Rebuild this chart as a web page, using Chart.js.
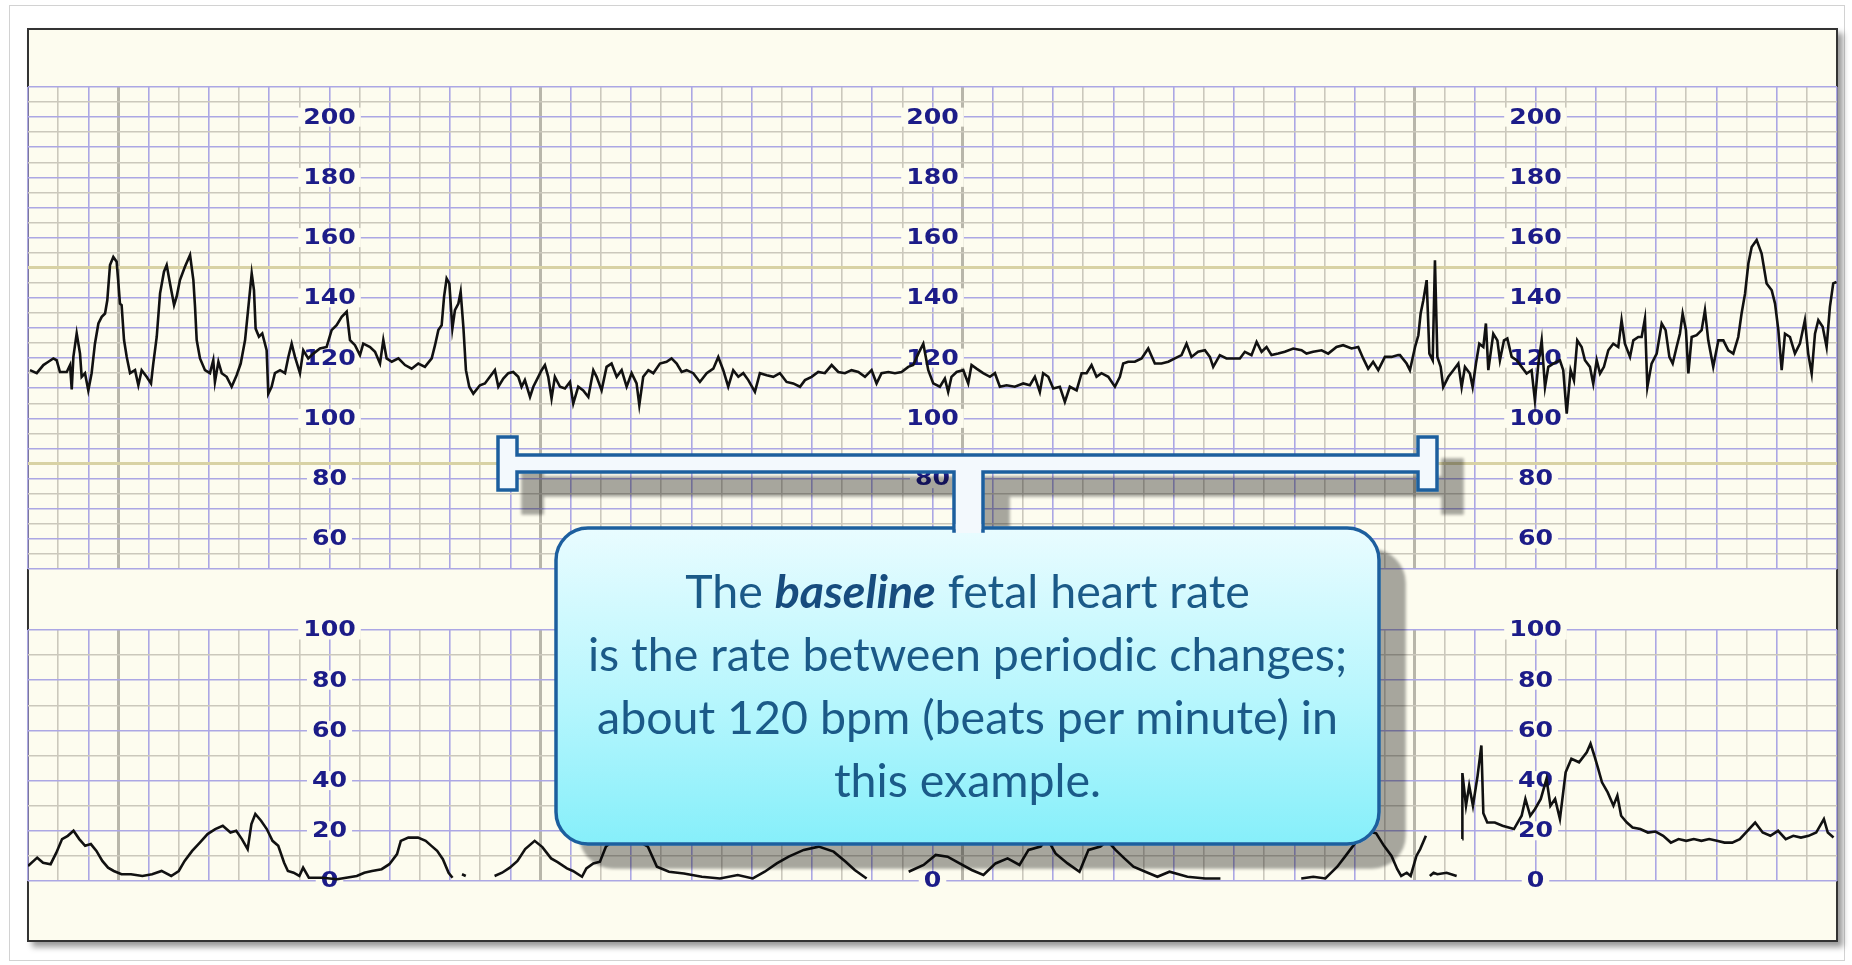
<!DOCTYPE html>
<html>
<head>
<meta charset="utf-8">
<title>Fetal heart rate baseline</title>
<script src="https://cdn.jsdelivr.net/npm/chart.js@4.4.1/dist/chart.umd.min.js"></script>
<style>
  html, body { margin: 0; padding: 0; background: #ffffff; }
  body { width: 1852px; height: 965px; position: relative; overflow: hidden; }
  #frame { position: absolute; left: 9px; top: 5px; width: 1834px; height: 954px; border: 1px solid #d2d2d2; }
  #panel { position: absolute; left: 27px; top: 28px; width: 1807px; height: 910px;
           border: 2px solid #333333; background: #fdfcef; box-shadow: 5px 5px 6px rgba(0,0,0,0.4); }
  canvas { position: absolute; left: 0; }
  #fhr { top: 0; }
  #ua { top: 600px; }
  #callout { position: absolute; left: 0; top: 0; }
  #note { position: absolute; left: 556px; width: 823px; top: 559px; text-align: center;
          font-family: Lato, "Open Sans", sans-serif; font-size: 46.5px; line-height: 63px; color: #1b5a88; }
  #note b { color: #174c7e; }
</style>
</head>
<body>
<div id="frame"></div>
<div id="panel"></div>
<canvas id="fhr" width="1852" height="600"></canvas>
<canvas id="ua" width="1852" height="320"></canvas>

<svg id="callout" width="1852" height="965" viewBox="0 0 1852 965">
  <defs>
    <linearGradient id="boxFill" x1="0" y1="0" x2="0" y2="1">
      <stop offset="0" stop-color="#e9fcff"/>
      <stop offset="0.55" stop-color="#b6f6fd"/>
      <stop offset="1" stop-color="#86effa"/>
    </linearGradient>
    <filter id="dropShadow" x="-5%" y="-10%" width="115%" height="140%">
      <feOffset in="SourceAlpha" dx="25" dy="23" result="off"/>
      <feGaussianBlur in="off" stdDeviation="1.5" result="blur"/>
      <feColorMatrix in="blur" type="matrix"
        values="0 0 0 0 0  0 0 0 0 0  0 0 0 0 0  0 0 0 0.34 0" result="shade"/>
      <feMerge><feMergeNode in="shade"/><feMergeNode in="SourceGraphic"/></feMerge>
    </filter>
  </defs>
  <g filter="url(#dropShadow)">
    <rect x="556" y="528" width="823" height="316" rx="32" ry="32"
          fill="url(#boxFill)" stroke="#1e5f9e" stroke-width="3.5"/>
    <path d="M498 437 H517 V455 H1418 V437 H1437 V490 H1418 V472 H983 V531 H954 V472 H517 V490 H498 Z"
          fill="#f3f9fd" stroke="#1e5f9e" stroke-width="3.5"/>
    <rect x="955.8" y="524" width="25.4" height="9" fill="#f3f9fd"/>
  </g>
</svg>

<div id="note">The <b><i>baseline</i></b> fetal heart rate<br>is the rate between periodic changes;<br>about 120 bpm (beats per minute) in<br>this example.</div>

<script>
// Strip time runs 0–1200 s; one small grid square is 20 s.
const labelTimes = [200, 600, 1000];          // columns where the scale numbers are printed
const majorTimes = [60, 340, 620, 920];       // heavier vertical rulings
const fhrTickValues = [60, 80, 100, 120, 140, 160, 180, 200];
const uaTickValues = [0, 20, 40, 60, 80, 100];
const fhrAccentLines = [150, 85];             // tinted horizontal rulings on the FHR paper

// Fetal heart rate trace: [time s, bpm]
const fhrTrace = [
  [1.3,116],[5.8,115],[10.2,117.7],[13.5,118.8],[16.8,119.9],[19.0,119.3],[21.2,115.4],[25.7,115.4],
  [27.9,117.7],[29.0,109.6],[30.1,120.4],[32.3,128.2],[34.5,121.5],[35.6,113.8],[37.8,115],[40.0,109.3],
  [42.2,115],[44.4,124.8],[46.7,131.5],[48.9,133.7],[51.1,134.8],[52.6,139.2],[54.4,150.9],[56.6,153.6],
  [58.8,152],[59.9,145.3],[61.0,138.1],[62.1,137.6],[63.7,126],[65.5,120.4],[67.7,115],[71.0,116],
  [73.2,111],[75.4,116],[78.7,113.8],[81.6,111.6],[83.1,118.2],[85.4,127.1],[87.6,141.5],[90.2,148.7],
  [92.0,150.9],[94.2,144.8],[96.9,137.6],[98.6,140.4],[100.8,145.9],[104.1,150.3],[107.5,154.2],[109.7,145.9],
  [110.8,137],[111.9,126],[114.1,119.9],[117.4,116],[120.7,115],[122.9,119.3],[124.0,112.1],[126.3,118.8],
  [128.5,115],[131.8,113.8],[135.1,110.5],[138.4,114.3],[141.1,118.2],[144.0,126],[146.2,137],[148.4,148.1],
  [149.9,142.6],[151.0,129.8],[153.2,127.1],[155.4,128.2],[158.3,122.6],[159.4,108.2],[161.6,110.5],[163.8,115],
  [167.2,116],[170.5,115],[172.7,120.4],[174.9,124.8],[177.1,120.4],[180.4,115],[182.6,122.6],[185.9,119.9],
  [189.3,121.5],[193.7,123.2],[198.1,123.7],[201.4,129.3],[204.7,130.9],[208.1,133.7],[211.4,135.4],[213.6,126],
  [216.9,124.3],[220.2,121],[222.4,124.8],[226.9,123.7],[230.2,122.1],[233.5,118.2],[235.7,126],[237.9,119.9],
  [241.3,118.8],[245.7,119.9],[250.1,117.7],[254.5,116.5],[258.9,118.2],[263.3,117.1],[267.8,119.9],[270.0,124.3],
  [272.2,129.3],[274.4,130.9],[276.0,140.4],[277.7,146.4],[279.5,144.8],[281.5,129.8],[283.2,135.9],[285.5,138.1],
  [287.0,142],[288.8,130.4],[290.5,116],[292.7,110.5],[295.4,108.2],[299.8,111],
  [303.1,111.6],[306.4,113.8],[309.7,116],[312.0,110.5],[315.3,113.2],[318.6,115],[321.9,115.4],[325.2,113.8],
  [327.4,110.5],[329.6,112.7],[333.0,107.1],[335.2,110.5],[338.5,113.8],[340.7,116],[342.9,117.7],[345.1,113.8],
  [347.3,106.6],[349.5,113.8],[352.9,110.5],[356.2,109.9],[359.5,112.1],[361.7,104.9],[365.0,110.5],[368.3,109.3],
  [371.7,107.1],[375.0,116],[377.2,113.8],[380.5,109.3],[383.8,117.1],[387.1,118.2],[390.5,113.8],[393.8,116],
  [397.1,110.5],[400.4,115],[403.7,111.6],[405.5,104.4],[408.1,113.8],[411.5,116],[414.8,115],[419.2,118.2],
  [423.6,118.8],[426.9,119.9],[430.3,118.2],[433.6,115.4],[436.9,116],[441.3,115],[445.7,112.1],[450.2,115],
  [454.6,116.5],[457.9,120.4],[461.2,116],[464.5,110.5],[467.8,116],[471.2,113.8],[474.5,115],[477.8,112.7],
  [482.2,108.8],[485.5,115],[490.0,114.3],[494.4,113.8],[498.8,115],[503.2,112.1],[507.6,111.6],[512.1,110.5],
  [515.4,112.7],[519.8,113.8],[524.2,115.4],[528.6,115],[533.1,117.7],[537.5,115.4],[541.9,115],[546.3,116],
  [550.8,115.4],[555.2,113.8],[559.6,116],[562.9,111.6],[566.2,115],[570.7,115.4],[575.1,115],[579.5,115.4],
  [583.9,117.1],[587.2,117.7],[590.6,121.5],[593.9,124.8],[597.2,116],[600.5,111.6],[604.9,110.5],
  [608.2,113.2],[610.4,108.8],[612.6,113.8],[616.0,115.4],[620.4,116],[623.7,111.6],[625.9,117.7],[629.2,116.5],
  [633.6,115],[638.1,113.8],[641.4,115],[644.7,110.5],[649.1,111],[654.6,110.5],[660.2,111.6],[664.6,111],
  [667.9,113.8],[671.2,108.8],[673.4,115],[676.8,113.8],[680.1,109.9],[684.5,110.5],[687.8,105.5],[691.1,110.5],
  [695.6,109.3],[698.9,115],[702.2,115],[705.5,117.7],[708.8,113.8],[712.1,115],[716.6,113.8],[721.0,110.5],
  [724.3,113.8],[726.5,118.2],[729.8,118.8],[734.2,118.8],[738.7,119.9],[743.1,123.2],[747.5,118.2],[751.9,118.2],
  [756.4,118.8],[760.8,119.9],[765.2,121],[768.5,124.8],[771.8,120.4],[776.2,122.1],[780.7,122.6],[784.0,120.4],
  [786.2,117.1],[790.6,121],[795.0,119.9],[799.5,119.9],[803.9,119.9],[807.2,122.1],[811.6,121],[815.0,125.4],
  [818.3,122.1],[821.6,123.7],[824.9,121],[829.3,121.5],[833.7,122.1],[839.3,123.2],[844.8,122.6],[848.1,121.5],
  [852.5,122.1],[858.1,122.6],[862.5,121.5],[868.0,123.7],[872.4,124.3],[878.0,123.2],[882.4,123.7],[885.7,119.9],
  [889.0,116.5],[892.3,118.8],[895.7,116],[900.1,120.4],[904.5,120.4],[908.9,121],
  [910.1,121],[914.5,118.2],[916.7,116],[920.1,123.7],[922.3,127.6],[923.8,134.8],[925.6,139.2],[927.8,145.9],
  [929.6,121.5],[931.8,119.3],[933.3,152.5],[934.9,120.4],[937.1,117.1],[938.8,110.4],[942.2,113.8],[945.5,116],
  [948.8,118.2],[951.0,110.4],[953.2,117.1],[956.5,114.9],[958.3,110.4],[960.5,118.2],[962.7,124.8],[965.4,123.7],
  [967.1,131.5],[968.7,116],[972.0,128.1],[974.7,125.9],[976.4,119.3],[979.1,125.9],[981.3,126.5],[984.2,120.4],
  [987.5,119.3],[990.8,117.1],[994.1,114.9],[997.4,116],[999.6,106],[1001.9,118.2],[1004.1,125.9],[1006.3,110.4],
  [1008.5,117.1],[1011.8,118.2],[1016.2,119.3],[1018.4,116],[1020.7,101.6],[1023.3,116],[1025.5,112.6],[1027.7,125.9],
  [1030.6,123.7],[1032.8,119.3],[1036.1,117.1],[1038.3,111.5],[1040.6,119.3],[1042.8,114.9],[1045.4,117.1],[1048.3,122.6],
  [1051.6,124.8],[1054.9,123.7],[1057.1,132.6],[1059.3,124.8],[1062.7,120.4],[1064.9,125.9],[1068.2,127],[1070.4,127],
  [1072.6,133.1],[1074.2,110.4],[1077.0,118.2],[1080.4,121.5],[1083.7,131.5],[1086.3,129.3],[1088.8,120.4],[1091.0,118.2],
  [1093.6,123.7],[1095.8,128.1],[1097.6,134.8],[1099.8,129.3],[1101.4,114.9],[1103.6,127],[1106.9,127.6],[1110.2,129.3],
  [1112.4,135.9],[1114.6,125.9],[1117.9,117.1],[1121.3,125.9],[1124.6,125.9],[1127.9,122.6],[1131.2,121.5],[1134.5,127],
  [1136.7,134.8],[1139.0,141.4],[1141.2,151.4],[1143.4,156.9],[1146.7,159.2],[1150.0,154.7],[1153.3,144.8],[1156.7,142.5],
  [1158.9,138.1],[1161.1,129.3],[1163.3,116],[1165.5,128.1],[1168.8,127],[1172.1,121.5],[1175.4,124.8],[1178.7,132.6],
  [1180.9,121.5],[1183.2,114.9],[1185.4,128.1],[1187.6,132.6],[1190.5,130.4],[1193.1,123.7],[1195.3,137],[1197.5,144.8],
  [1199.7,145.3]
];

// Uterine activity trace: [time s, units]; null marks a break in the recording
const uaTrace = [
  [0,6],[6.1,9.3],[10,7.3],[15,6.7],[18.8,11.3],[22.6,16.7],[26.4,18],[30.2,20],[34,16.7],[37.9,14],
  [41.7,14.7],[45.4,12],[49.3,8],[53.1,5.3],[56.9,4],[62,2.7],[68.3,2.7],[75.9,2],[82.3,2.7],[88.6,4],
  [95,2],[100,4],[103.9,8],[108.9,12],[114,15.3],[119.1,18.7],[124.2,20.7],[129.2,22],[134.3,19.3],[138.1,20],
  [141.9,16.7],[145.7,12.7],[148.2,22.7],[150.8,26.7],[154.6,24],[158.4,20.7],[162.2,16],[166,14],[169.9,7.3],[172.4,4],
  [176.2,3.3],[180,2],[182.5,5.3],[186.3,1.3],[195.2,1.3],[205,0.7],[218.1,2],[223.1,3.3],[228.2,4],[234.6,4.7],
  [239.7,6.7],[244.8,10.7],[247.3,16],[252.3,17.3],[258.7,17.3],[263.8,16],[267.6,14],[271.4,12],[275.2,8.7],[279,3.3],
  [281.6,1.3],[284,null],[287.9,2.7],[290.4,2],[300,null],[309.5,2],[314.5,3.3],[319.6,5.3],[324.7,8],[329.8,12.7],
  [336.1,16],[341.2,13.5],[347,9],[351.3,7.5],[357.5,5],[361.5,4],[367.5,1.7],[370.4,5],[375,7],[379.4,7.7],
  [383.4,13.7],[392,18],[402,17],[411.2,13.7],[417.2,5.7],[425.2,3.7],[435.1,3],[447,1.7],[459,1],[470.8,2.4],
  [480.8,1],[488.7,3.7],[496.7,7],[504.6,9.7],[514.6,12.4],[524.5,13.7],[534.4,11.7],[542.4,7.7],[548.4,4.4],[556.3,1],
  [570,null],[584.2,3.7],[594.1,6.4],[602.1,10.4],[610,9.7],[618,7],[626,4.4],[633.8,2.4],[641.8,7],[649.8,9],
  [657.7,6.4],[663.7,12.4],[671.7,13.7],[676,17],[681.6,11],[689.6,7],[697.5,3.7],[703.5,12.4],[711.4,13.7],[716,16],
  [721.4,12.4],[727.3,9],[733.3,5.7],[741.2,3.7],[749.2,1.7],[757.2,3.7],[769.1,1.7],[781,1],[791,1],[820,null],
  [844.6,1],[852.6,1.7],[860.6,1],[868.5,5.7],[874,10],[879,14],[887,20],[894.3,19],[899.5,14],[904.5,10],
  [908.3,4.7],[910.9,2],[914.6,3.3],[917.2,2],[921,10],[923.5,12.7],[927.3,18],[928.6,null],[929.9,2],[932.4,3.3],
  [934.9,2.7],[941,3.3],[947.7,2],[949.5,null],[951.4,16.7],[951.5,43],[953.9,30],[956,38],[958.5,30],[961.6,42],
  [964.1,54],[965.4,27],[968,23.3],[973,23.3],[978.1,22],[985.7,20.7],[990.8,26],[993.3,32.7],[996.5,26],[999.7,28.7],
  [1003.5,32.7],[1007.3,40.7],[1009.9,30],[1013,32.7],[1016.2,24.7],[1020,43.3],[1023.8,48.7],[1028.9,47.3],[1034,51.3],[1036.5,54.7],
  [1039,50],[1041.6,44.7],[1044.1,39.3],[1047.9,35.3],[1051.7,30],[1054.3,34],[1056.8,26],[1060.6,23.3],[1064.4,21.3],[1069.5,20.7],
  [1074.6,19.3],[1079.6,19.7],[1084.7,18],[1089.8,15.3],[1094.9,16.7],[1100,16],[1105,16.7],[1110.1,16],[1115.2,16.7],[1120.3,16],
  [1125.4,15.3],[1130.5,15.3],[1135.5,16.7],[1140.6,20],[1145.7,23.3],[1150.7,19.3],[1155.8,18],[1160.9,20],[1166,16.7],[1171,18],
  [1176.1,17.3],[1181.2,18],[1186.2,19.3],[1191.3,24.7],[1193.9,19.3],[1197.7,17.3]
];

const PAPER = '#fdfcef';
const LAVENDER = '#aca7e4';
const GREY = '#cbc8bc';
const MAJOR = '#b8b6aa';
const ACCENT = '#d8d2a4';
const INK = '#1c1c88';

// Prints the scale numbers on the paper itself, in three columns, over a paper-coloured knockout.
const stripLabels = {
  id: 'stripLabels',
  beforeDatasetsDraw(chart, args, opts) {
    const { ctx, scales: { x, y } } = chart;
    const stretch = 1.2;
    ctx.save();
    ctx.font = 'bold 21px "DejaVu Sans", Verdana, sans-serif';
    ctx.textAlign = 'center';
    ctx.textBaseline = 'middle';
    for (const t of opts.columns) {
      for (const v of opts.values) {
        const px = x.getPixelForValue(t);
        const py = y.getPixelForValue(v);
        const text = String(v);
        const w = ctx.measureText(text).width * stretch;
        ctx.fillStyle = PAPER;
        ctx.fillRect(px - w / 2 - 5, py - 9.5, w + 10, 19);
        ctx.save();
        ctx.translate(px, py);
        ctx.scale(stretch, 1);
        ctx.fillStyle = INK;
        ctx.fillText(text, 0, 1);
        ctx.restore();
      }
    }
    ctx.restore();
  }
};

function timeGridColor(c) {
  const v = c.tick.value;
  if (majorTimes.includes(v)) return MAJOR;
  return Math.round(v / 20) % 2 === 0 ? LAVENDER : GREY;
}
function timeGridWidth(c) {
  return majorTimes.includes(c.tick.value) ? 3 : 1.6;
}

function makeStrip(id, trace, yMin, yMax, yStep, tickValues, padding, yColor, yWidth) {
  return new Chart(document.getElementById(id), {
    type: 'line',
    data: {
      datasets: [{
        data: trace.map(p => ({ x: p[0], y: p[1] })),
        borderColor: '#111111',
        borderWidth: 2.6,
        pointRadius: 0,
        tension: 0,
        spanGaps: false
      }]
    },
    options: {
      responsive: false,
      animation: false,
      events: [],
      layout: { padding },
      plugins: {
        legend: { display: false },
        tooltip: { enabled: false },
        stripLabels: { columns: labelTimes, values: tickValues }
      },
      scales: {
        x: {
          type: 'linear', min: 0, max: 1200,
          ticks: { display: false, stepSize: 20 },
          grid: { drawTicks: false, color: timeGridColor, lineWidth: timeGridWidth },
          border: { display: false }
        },
        y: {
          type: 'linear', min: yMin, max: yMax,
          ticks: { display: false, stepSize: yStep },
          grid: { drawTicks: false, color: yColor, lineWidth: yWidth },
          border: { display: false }
        }
      }
    },
    plugins: [stripLabels]
  });
}

// Fetal heart rate paper: 50–210 bpm, rulings every 5 bpm
makeStrip('fhr', fhrTrace, 50, 210, 5, fhrTickValues,
  { left: 28, right: 15, top: 87, bottom: 31 },
  c => fhrAccentLines.includes(c.tick.value) ? ACCENT : (c.tick.value % 10 === 0 ? LAVENDER : GREY),
  c => fhrAccentLines.includes(c.tick.value) ? 3 : 1.6);

// Uterine activity paper: 0–100, rulings every 10 units
makeStrip('ua', uaTrace, 0, 100, 10, uaTickValues,
  { left: 28, right: 15, top: 30, bottom: 39 },
  c => (c.tick.value % 20 === 0 ? LAVENDER : GREY),
  () => 1.6);
</script>
</body>
</html>
